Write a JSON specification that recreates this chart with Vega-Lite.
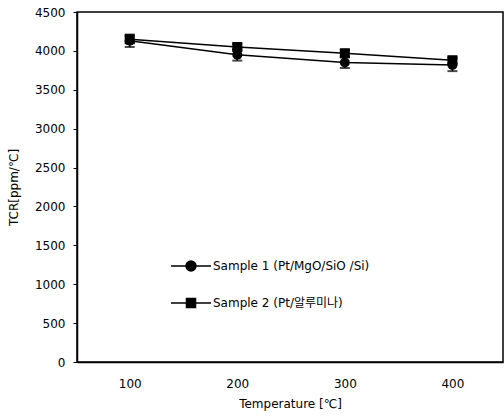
{
  "$schema": "https://vega.github.io/schema/vega-lite/v6.json",
  "width": 426,
  "height": 350,
  "autosize": {"type": "none"},
  "padding": {"left": 77, "top": 12, "right": 1, "bottom": 58},
  "background": "white",
  "config": {
    "font": "DejaVu Sans, Noto Sans CJK KR",
    "view": {"stroke": "black", "strokeWidth": 1.5},
    "axis": {"grid": false, "domainColor": "black", "domainWidth": 1.5, "tickColor": "black", "labelColor": "black", "titleColor": "black", "labelFont": "DejaVu Sans", "titleFont": "DejaVu Sans, Noto Sans CJK KR", "labelFontSize": 12, "titleFontSize": 12, "titleFontWeight": "normal"}
  },
  "data": {
    "values": [
      {"temp": 100, "series": "Sample 1 (Pt/MgO/SiO /Si)", "tcr": 4130, "lo": 4050, "hi": 4210},
      {"temp": 200, "series": "Sample 1 (Pt/MgO/SiO /Si)", "tcr": 3950, "lo": 3875, "hi": 4025},
      {"temp": 300, "series": "Sample 1 (Pt/MgO/SiO /Si)", "tcr": 3850, "lo": 3780, "hi": 3920},
      {"temp": 400, "series": "Sample 1 (Pt/MgO/SiO /Si)", "tcr": 3820, "lo": 3740, "hi": 3900},
      {"temp": 100, "series": "Sample 2 (Pt/알루미나)", "tcr": 4150, "lo": 4110, "hi": 4190},
      {"temp": 200, "series": "Sample 2 (Pt/알루미나)", "tcr": 4050, "lo": 4010, "hi": 4090},
      {"temp": 300, "series": "Sample 2 (Pt/알루미나)", "tcr": 3970, "lo": 3930, "hi": 4010},
      {"temp": 400, "series": "Sample 2 (Pt/알루미나)", "tcr": 3880, "lo": 3840, "hi": 3920}
    ]
  },
  "encoding": {
    "x": {
      "field": "temp", "type": "quantitative",
      "scale": {"domain": [51, 447], "nice": false, "zero": false},
      "axis": {"values": [100, 200, 300, 400], "format": "d", "title": "Temperature [℃]", "ticks": false, "labelPadding": 16, "titlePadding": 9}
    },
    "y": {
      "field": "tcr", "type": "quantitative",
      "scale": {"domain": [0, 4500], "nice": false},
      "axis": {"values": [0, 500, 1000, 1500, 2000, 2500, 3000, 3500, 4000, 4500], "format": "d", "title": "TCR[ppm/℃]", "tickSize": 4, "labelPadding": 8, "titlePadding": 14}
    }
  },
  "layer": [
    {
      "mark": {"type": "line", "color": "black", "strokeWidth": 1.5},
      "encoding": {"detail": {"field": "series"}}
    },
    {
      "mark": {"type": "errorbar", "color": "black", "thickness": 1.5, "ticks": {"size": 10, "thickness": 2}},
      "encoding": {
        "y": {"field": "lo", "type": "quantitative"},
        "y2": {"field": "hi"}
      }
    },
    {
      "mark": {"type": "point", "filled": true, "color": "black", "opacity": 1, "size": 100},
      "encoding": {
        "shape": {"field": "series", "type": "nominal", "scale": {"range": ["circle", "square"]}, "legend": null}
      }
    },
    {
      "mark": {"type": "point", "filled": false, "color": "black", "opacity": 1, "strokeWidth": 1.5, "size": 0},
      "encoding": {
        "shape": {
          "field": "series", "type": "nominal",
          "scale": {"range": [
            "M-2,0L2,0M0.5,0A0.5,0.5,0,1,1,-0.5,0A0.5,0.5,0,1,1,0.5,0ZM0.35,0A0.35,0.35,0,1,1,-0.35,0A0.35,0.35,0,1,1,0.35,0ZM0.2,0A0.2,0.2,0,1,1,-0.2,0A0.2,0.2,0,1,1,0.2,0ZM0.07,0A0.07,0.07,0,1,1,-0.07,0A0.07,0.07,0,1,1,0.07,0Z",
            "M-2,0L2,0M-0.45,-0.45L0.45,-0.45L0.45,0.45L-0.45,0.45ZM-0.3,-0.3L0.3,-0.3L0.3,0.3L-0.3,0.3ZM-0.15,-0.15L0.15,-0.15L0.15,0.15L-0.15,0.15ZM-0.04,-0.04L0.04,-0.04L0.04,0.04L-0.04,0.04Z"
          ]},
          "legend": {
            "title": null, "orient": "none", "legendX": 103, "legendY": 243, "padding": 0,
            "symbolSize": 400, "symbolStrokeWidth": 1.5, "symbolStrokeColor": "black", "symbolOpacity": 1,
            "rowPadding": 18, "labelOffset": 11, "labelFontSize": 12, "labelColor": "black", "labelFont": "DejaVu Sans, Noto Sans CJK KR", "labelLimit": 300
          }
        }
      }
    }
  ],
  "resolve": {"scale": {"shape": "independent"}}
}
